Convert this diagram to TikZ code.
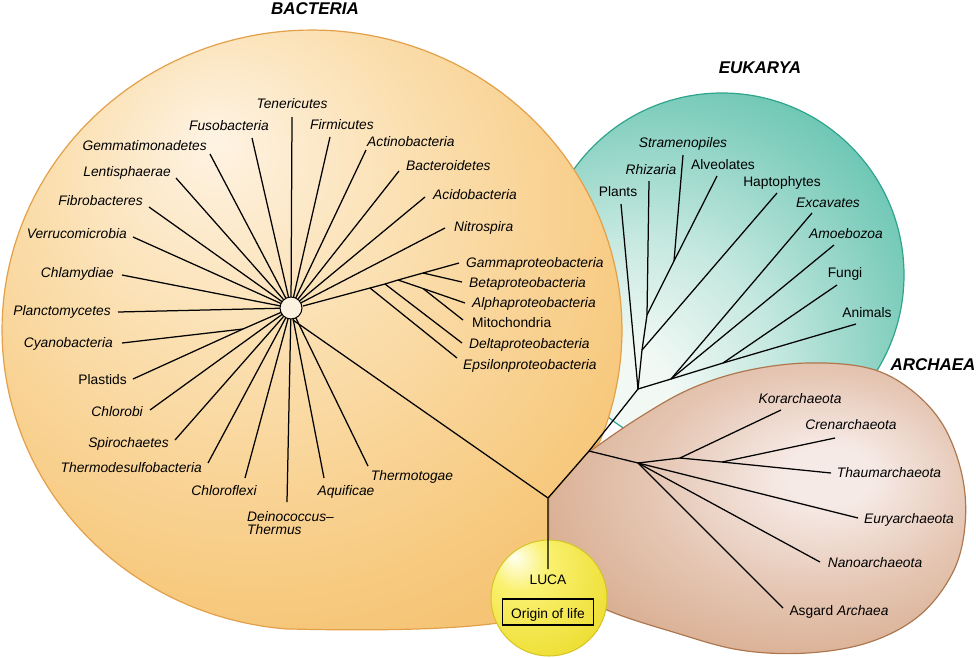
\documentclass[tikz,border=0pt]{standalone}
\usepackage{fontspec}
\setmainfont{Liberation Sans}
\definecolor{bactA}{HTML}{FEF3E3}
\definecolor{bactB}{HTML}{FBE0B2}
\definecolor{bactC}{HTML}{F7CA80}
\definecolor{bactD}{HTML}{F2BA62}
\definecolor{bactRim}{HTML}{E3A048}
\definecolor{eukA}{HTML}{F2F9F5}
\definecolor{eukB}{HTML}{C4E8DF}
\definecolor{eukC}{HTML}{84CFBF}
\definecolor{eukD}{HTML}{4DBBA5}
\definecolor{eukRim}{HTML}{2FA48C}
\definecolor{arcA}{HTML}{F6EAE6}
\definecolor{arcB}{HTML}{E6C8B6}
\definecolor{arcC}{HTML}{D8AC8E}
\definecolor{arcD}{HTML}{C9946F}
\definecolor{arcRim}{HTML}{AE7750}
\definecolor{lucaA}{HTML}{FFFFF0}
\definecolor{lucaB}{HTML}{FAF170}
\definecolor{lucaC}{HTML}{EEDF36}
\definecolor{lucaRim}{HTML}{D6C424}
\definecolor{hubfill}{HTML}{FDF1DF}
\pgfdeclareradialshading{bactshade}{\pgfpoint{-8bp}{16bp}}{color(0bp)=(bactA); color(14bp)=(bactB); color(31bp)=(bactC); color(45bp)=(bactD); color(50bp)=(bactRim); color(72bp)=(bactRim)}
\pgfdeclareradialshading{eukshade}{\pgfpoint{-17bp}{-20bp}}{color(0bp)=(eukA); color(8bp)=(eukA); color(20bp)=(eukB); color(33bp)=(eukC); color(45bp)=(eukD); color(50bp)=(eukRim); color(72bp)=(eukRim)}
\pgfdeclareradialshading{arcshade}{\pgfpoint{10bp}{6bp}}{color(0bp)=(arcA); color(5bp)=(arcA); color(18bp)=(arcB); color(32bp)=(arcC); color(44bp)=(arcD); color(50bp)=(arcRim); color(72bp)=(arcRim)}
\pgfdeclareradialshading{lucashade}{\pgfpoint{-15bp}{18bp}}{color(0bp)=(lucaA); color(12bp)=(lucaB); color(36bp)=(lucaC); color(48bp)=(lucaC); color(50bp)=(lucaRim); color(72bp)=(lucaRim)}
\begin{document}
\begin{tikzpicture}[x=1pt,y=-1pt,
  tree/.style={line width=1.25pt, line join=round, draw=black},
  lbl/.style={font=\fontsize{13.8}{15}\selectfont\itshape, inner sep=0pt, text height=9.9pt, text depth=0pt},
  lblu/.style={lbl, font=\fontsize{13.8}{15}\selectfont\upshape},
  ttl/.style={font=\fontsize{17}{20}\selectfont\bfseries\itshape, inner sep=0pt, text height=12.2pt, text depth=0pt}]
\useasboundingbox (0,0) rectangle (976,657);

% ---------- domain shapes ----------
\shadedraw[shading=eukshade, draw=eukRim, line width=1.2pt] (722,275) circle[radius=182pt];

\shadedraw[shading=arcshade, draw=arcRim, line width=1.2pt]
  plot[smooth cycle, tension=0.6] coordinates {(545,482) (590,451) (640,417) (690,389) (745,371) (807,363) (868,368) (910,389) (943,425) (962,475) (965,525) (953,572) (920,615) (870,642) (807,653) (740,650) (673,632) (607,610) (565,585) (535,535)};

\shadedraw[shading=bactshade, draw=bactRim, line width=1.2pt]
  (589,451) -- plot[domain=0:287, samples=140, variable=\t] ({312+310*cos(22-\t)}, {330+300*sin(22-\t)})
  .. controls (370,631) and (455,630) .. (505,622) -- (549,600) -- (549,498) -- cycle;

\shadedraw[shading=lucashade, draw=lucaRim, line width=1pt] (549,598) circle[radius=58pt];

% ---------- coordinates ----------
\coordinate (J) at (548,498);
\coordinate (lucaTop) at (548,569);
\coordinate (A0) at (589,451);
\coordinate (eRoot) at (638,389);
\coordinate (aHub) at (638,463);
\coordinate (hub) at (291,308);
\coordinate (hubS) at (293,320);
\coordinate (pStem) at (303,306);

% bacteria tips
\coordinate (tTene) at (292,117);
\coordinate (tFuso) at (252,138);
\coordinate (tFirm) at (330,137);
\coordinate (tGemm) at (210,154);
\coordinate (tActi) at (366,150);
\coordinate (tBact) at (399,171);
\coordinate (tLent) at (176,178);
\coordinate (tAcid) at (425,197);
\coordinate (tFibr) at (149,207);
\coordinate (tNitr) at (445,228);
\coordinate (tVerr) at (133,237);
\coordinate (tChla) at (122,275);
\coordinate (tPlan) at (118,312);
\coordinate (bC) at (243,329);
\coordinate (tCyan) at (122,343);
\coordinate (tPlas) at (133,379);
\coordinate (tChlb) at (150,410);
\coordinate (tSpir) at (175,440);
\coordinate (tThds) at (208,463);
\coordinate (tChlf) at (245,478);
\coordinate (tDein) at (287,502);
\coordinate (tAqui) at (324,478);
\coordinate (tThtg) at (368,466);
% proteobacteria
\coordinate (pE) at (370,288);
\coordinate (pD) at (385,284);
\coordinate (pA) at (398,280);
\coordinate (pB) at (423,273);
\coordinate (pM) at (423,288.5);
\coordinate (tGamma) at (459,263);
\coordinate (tBeta) at (462,282);
\coordinate (tAlpha) at (465,303);
\coordinate (tMito) at (463,320);
\coordinate (tDelta) at (462,343);
\coordinate (tEps) at (457,358);
% eukarya
\coordinate (eH) at (642,350);
\coordinate (eR) at (647,315);
\coordinate (eS) at (674,261);
\coordinate (eX1) at (671,379);
\coordinate (eX2) at (723,363);
\coordinate (tPlants) at (621,204);
\coordinate (tRhiz) at (649,181);
\coordinate (tStram) at (683,155);
\coordinate (tAlv) at (717,176);
\coordinate (tHapt) at (777,193);
\coordinate (tExc) at (812,213);
\coordinate (tAmoe) at (834,245);
\coordinate (tFungi) at (837,285);
\coordinate (tAnim) at (856,324);
% archaea
\coordinate (aA) at (680,458);
\coordinate (aB) at (722,462);
\coordinate (tKor) at (781,410);
\coordinate (tCren) at (835,438);
\coordinate (tThaum) at (831,473);
\coordinate (tEury) at (858,518);
\coordinate (tNano) at (820,562);
\coordinate (tAsg) at (783,608);

% ---------- tree ----------
\draw[tree] (lucaTop) -- (J) -- (hubS);
\draw[tree] (J) -- (A0) -- (eRoot);
\draw[tree] (A0) -- (aHub);

\foreach \t in {tTene,tFuso,tFirm,tGemm,tActi,tBact,tLent,tAcid,tFibr,tNitr,tVerr,tChla,tPlan,tChlb,tSpir,tThds,tChlf,tDein,tAqui,tThtg}
  \draw[tree] (hub) -- (\t);
\draw[tree] (hub) -- (bC) -- (tPlas);
\draw[tree] (bC) -- (tCyan);
\draw[tree] (pStem) -- (pE) -- (pD) -- (pA) -- (pB) -- (tGamma);
\draw[tree] (pB) -- (tBeta);
\draw[tree] (pA) -- (pM) -- (tAlpha);
\draw[tree] (pM) -- (tMito);
\draw[tree] (pD) -- (tDelta);
\draw[tree] (pE) -- (tEps);
\filldraw[fill=hubfill, draw=black, line width=1pt] (hub) circle[radius=11pt];

\draw[tree] (eRoot) -- (tPlants);
\draw[tree] (eRoot) -- (eH) -- (eR) -- (tRhiz);
\draw[tree] (eR) -- (eS) -- (tAlv);
\draw[tree] (eS) -- (tStram);
\draw[tree] (eH) -- (tHapt);
\draw[tree] (eRoot) -- (eX1) -- (eX2) -- (tAnim);
\draw[tree] (eX1) -- (tExc);
\draw[tree] (eX1) -- (tAmoe);
\draw[tree] (eX2) -- (tFungi);

\draw[tree] (aHub) -- (aA) -- (aB) -- (tThaum);
\draw[tree] (aA) -- (tKor);
\draw[tree] (aB) -- (tCren);
\draw[tree] (aHub) -- (tEury);
\draw[tree] (aHub) -- (tNano);
\draw[tree] (aHub) -- (tAsg);

% ---------- LUCA ----------
\node[lblu] (lLuca) at (548,580) {LUCA};
\node[lblu, draw, line width=1.2pt, minimum width=91pt, minimum height=26pt] (lOrigin) at (548,612) {};
\node[lblu] (lOriginTxt) at (548,614) {Origin of life};

% ---------- titles ----------
\node[ttl] (tBacteria) at (315,8) {BACTERIA};
\node[ttl] (tEukarya) at (760,67) {EUKARYA};
\node[ttl] (tArchaea) at (933,364) {ARCHAEA};

% ---------- bacteria labels ----------
\node[lbl] (lTene) at (292,104) {Tenericutes};
\node[lbl] (lFuso) at (229,126) {Fusobacteria};
\node[lbl] (lFirm) at (342,125) {Firmicutes};
\node[lbl, anchor=east] (lGemm) at (207,146) {Gemmatimonadetes};
\node[lbl, anchor=west] (lActi) at (367,142) {Actinobacteria};
\node[lbl, anchor=east] (lLent) at (171,172) {Lentisphaerae};
\node[lbl, anchor=west] (lBact) at (406,166) {Bacteroidetes};
\node[lbl, anchor=east] (lFibr) at (143,201) {Fibrobacteres};
\node[lbl, anchor=west] (lAcid) at (433,195) {Acidobacteria};
\node[lbl, anchor=east] (lVerr) at (127,234) {Verrucomicrobia};
\node[lbl, anchor=west] (lNitr) at (454,227) {Nitrospira};
\node[lbl, anchor=east] (lChla) at (114,273) {Chlamydiae};
\node[lbl, anchor=east] (lPlan) at (111,311) {Planctomycetes};
\node[lbl, anchor=east] (lCyan) at (113,343) {Cyanobacteria};
\node[lblu, anchor=east] (lPlas) at (127,380) {Plastids};
\node[lbl, anchor=east] (lChlb) at (143,412) {Chlorobi};
\node[lbl, anchor=east] (lSpir) at (169,443) {Spirochaetes};
\node[lbl, anchor=east] (lThds) at (202,468) {Thermodesulfobacteria};
\node[lbl] (lChlf) at (224,491) {Chloroflexi};
\node[lbl, anchor=west] (lDein1) at (247,517) {Deinococcus\textendash};
\node[lbl, anchor=west] (lDein2) at (247,530) {Thermus};
\node[lbl] (lAqui) at (346,491) {Aquificae};
\node[lbl] (lThtg) at (412,476) {Thermotogae};
\node[lbl, anchor=west] (lGamma) at (466,263) {Gammaproteobacteria};
\node[lbl, anchor=west] (lBeta) at (469,283) {Betaproteobacteria};
\node[lbl, anchor=west] (lAlpha) at (472,303) {Alphaproteobacteria};
\node[lblu, anchor=west] (lMito) at (472,323) {Mitochondria};
\node[lbl, anchor=west] (lDelta) at (469,344) {Deltaproteobacteria};
\node[lbl, anchor=west] (lEps) at (463,365) {Epsilonproteobacteria};

% ---------- eukarya labels ----------
\node[lblu] (lPlants) at (618,192) {Plants};
\node[lbl] (lRhiz) at (651,170) {Rhizaria};
\node[lbl] (lStram) at (683,143) {Stramenopiles};
\node[lblu] (lAlv) at (723,165) {Alveolates};
\node[lblu] (lHapt) at (782,182) {Haptophytes};
\node[lbl] (lExc) at (828,203) {Excavates};
\node[lbl] (lAmoe) at (846,234) {Amoebozoa};
\node[lblu] (lFungi) at (845,273) {Fungi};
\node[lblu] (lAnim) at (867,313) {Animals};

% ---------- archaea labels ----------
\node[lbl] (lKor) at (800,399) {Korarchaeota};
\node[lbl] (lCren) at (851,425) {Crenarchaeota};
\node[lbl] (lThaum) at (889,473) {Thaumarchaeota};
\node[lbl] (lEury) at (909,519) {Euryarchaeota};
\node[lbl] (lNano) at (875,563) {Nanoarchaeota};
\node[lblu] (lAsg) at (839,611) {Asgard \textit{Archaea}};
\end{tikzpicture}
\end{document}
